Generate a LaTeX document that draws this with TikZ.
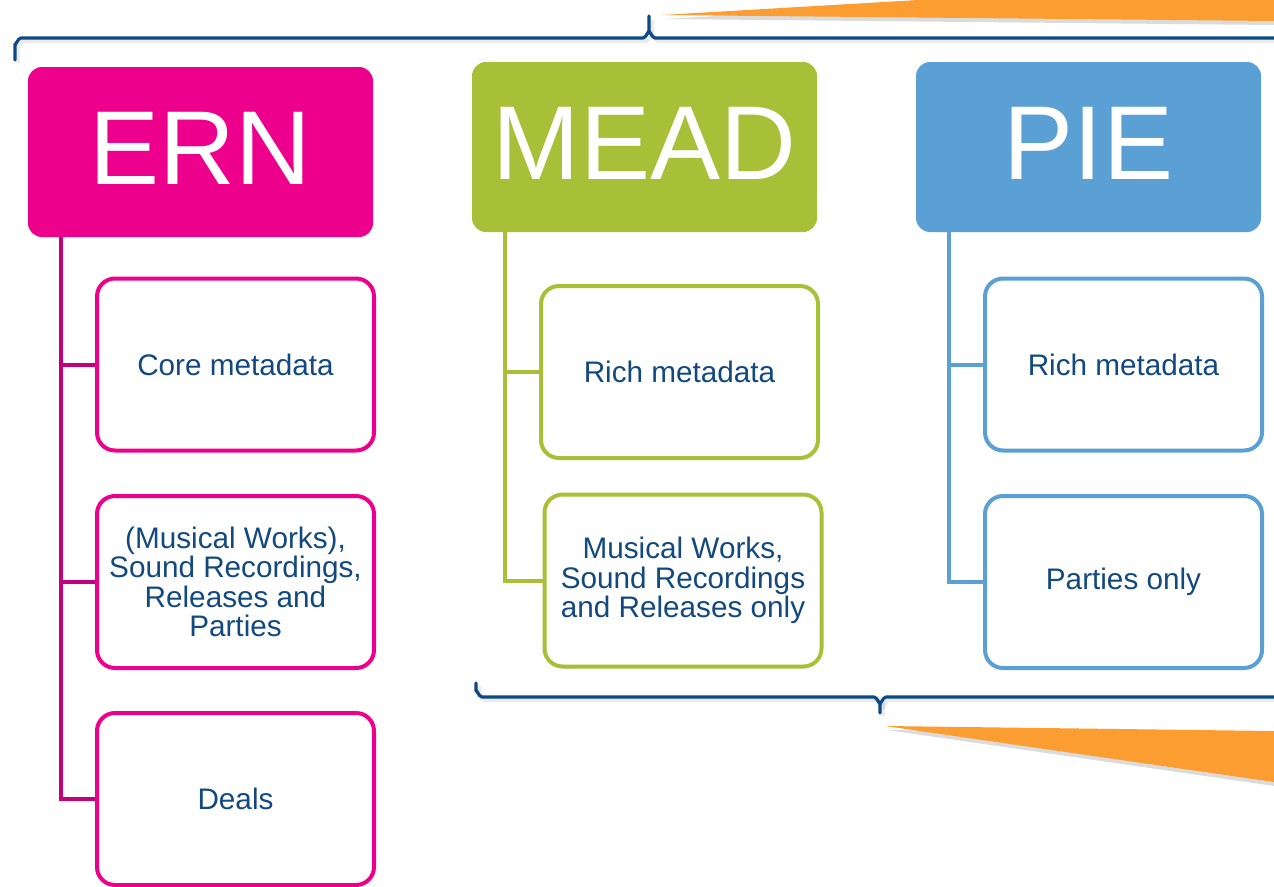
\documentclass[tikz,border=0pt]{standalone}
\usepackage{fontspec}
\setmainfont{Liberation Sans}
\definecolor{ernc}{HTML}{EC008C}
\definecolor{ernl}{HTML}{C4007D}
\definecolor{meadc}{HTML}{A8BF38}
\definecolor{piec}{HTML}{5AA0D4}
\definecolor{txtc}{HTML}{12497E}
\definecolor{bracec}{HTML}{0B4A84}
\definecolor{orangec}{HTML}{FB9D31}
\begin{document}
\begin{tikzpicture}[x=1pt,y=-1pt,
  header/.style={rectangle,rounded corners=14pt,minimum width=345pt,minimum height=170pt,inner sep=0pt,text=white,font=\fontsize{105}{105}\selectfont},
  child/.style={rectangle,draw,line width=4pt,rounded corners=18pt,fill=white,minimum width=277pt,minimum height=172pt,inner sep=0pt,align=center,text=txtc,font=\fontsize{29.7}{29.5}\selectfont},
  conn/.style={line width=4pt},
  bracestyle/.style={draw=bracec,line width=3.2pt,line cap=round,line join=round},
  shadowstyle/.style={draw=black!40,line width=4pt,opacity=0.2}]
\useasboundingbox (0,0) rectangle (1274,886);
% orange shapes
\fill[black,opacity=0.14] (664,19) -- (920,4) -- (1274,4) -- (1274,25) -- cycle;
\fill[orangec] (662,15) -- (918,0) -- (1274,0) -- (1274,21) -- cycle;
\fill[black,opacity=0.14] (887,730) -- (1274,735) -- (1274,786) -- cycle;
\fill[orangec] (885,726) -- (1274,731) -- (1274,782) -- cycle;
% braces (shadows)
\draw[shadowstyle] (18,63) -- (18,47) to[out=-90,in=180] (24,41) -- (646,41) to[out=0,in=90] (652,35) -- (652,20);
\draw[shadowstyle] (652,35) to[out=90,in=180] (658,41) -- (1280,41);
\draw[shadowstyle] (479,686) -- (479,694) to[out=90,in=180] (485,700) -- (877,700) to[out=0,in=-90] (883,706) -- (883,716);
\draw[shadowstyle] (883,706) to[out=-90,in=180] (889,700) -- (1280,700);
% braces
\coordinate (tb1) at (15,60);
\coordinate (tb2) at (649,16);
\coordinate (bb1) at (476,683);
\coordinate (bb2) at (880,713);
\draw[bracestyle] (tb1) -- (15,44) to[out=-90,in=180] (21,38) -- (643,38) to[out=0,in=90] (649,32) -- (tb2);
\draw[bracestyle] (649,32) to[out=90,in=180] (655,38) -- (1280,38);
\draw[bracestyle] (bb1) -- (476,691) to[out=90,in=180] (482,697) -- (874,697) to[out=0,in=-90] (880,703) -- (bb2);
\draw[bracestyle] (880,703) to[out=-90,in=180] (886,697) -- (1280,697);
% headers
\node[header,fill=ernc] (ern) at (200.5,152) {\raisebox{7pt}{ERN}};
\node[header,fill=meadc] (mead) at (644.5,147) {\raisebox{7pt}{MEAD}};
\node[header,fill=piec] (pie) at (1088.5,147) {\raisebox{7pt}{PIE}};
% connector roots
\coordinate (ernroot) at (61,237);
\coordinate (meadroot) at (505,232);
\coordinate (pieroot) at (949,232);
% ERN children
\node[child,draw=ernc] (core) at (235.5,364.5) {Core metadata};
\node[child,draw=ernc] (works) at (235.5,582) {(Musical Works),\\Sound Recordings,\\Releases and\\Parties};
\node[child,draw=ernc] (deals) at (235.5,799) {Deals};
% MEAD children
\node[child,draw=meadc] (mrich) at (679.5,372) {Rich metadata};
\node[child,draw=meadc] (mworks) at (683,580.5) {Musical Works,\\Sound Recordings\\and Releases only};
% PIE children
\node[child,draw=piec] (prich) at (1123.5,364.5) {Rich metadata};
\node[child,draw=piec] (parties) at (1123.5,582) {Parties only};
% connectors
\draw[conn,draw=ernl] (ernroot) |- (core.west);
\draw[conn,draw=ernl] (ernroot) |- (works.west);
\draw[conn,draw=ernl] (ernroot) |- (deals.west);
\draw[conn,draw=meadc] (meadroot) |- (mrich.west);
\draw[conn,draw=meadc] (meadroot) |- (mworks.west);
\draw[conn,draw=piec] (pieroot) |- (prich.west);
\draw[conn,draw=piec] (pieroot) |- (parties.west);
\end{tikzpicture}
\end{document}
